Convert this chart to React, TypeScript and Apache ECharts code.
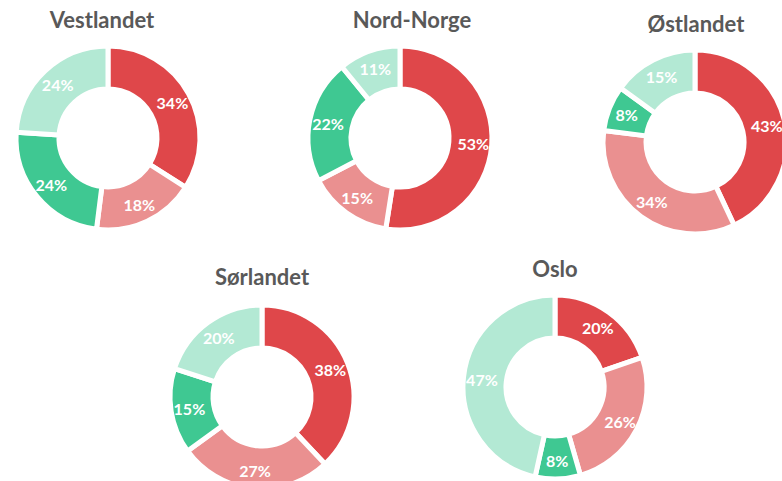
import React, { useEffect, useRef } from "react";
import * as echarts from "echarts";

const categories = ["A", "B", "C", "D"];
const regions = ["Vestlandet", "Nord-Norge", "Østlandet", "Sørlandet", "Oslo"];
const vestlandet = [34, 18, 24, 24];
const nordNorge = [53, 15, 22, 11];
const ostlandet = [43, 34, 8, 15];
const sorlandet = [38, 27, 15, 20];
const oslo = [20, 26, 8, 47];
const seriesValues = [vestlandet, nordNorge, ostlandet, sorlandet, oslo];

const colors = ["#DF474A", "#EA9090", "#3FC892", "#B3E9D4"];

const layouts = [
  { cx: 108, cy: 138, tx: 102, ty: 19 },
  { cx: 400, cy: 138, tx: 412, ty: 19 },
  { cx: 695, cy: 142, tx: 696, ty: 23 },
  { cx: 262, cy: 397, tx: 262, ty: 276 },
  { cx: 555, cy: 387, tx: 555, ty: 268 },
];

export default function App() {
  const ref = useRef<HTMLDivElement>(null);
  useEffect(() => {
    if (!ref.current) return;
    const chart = echarts.init(ref.current, null, { renderer: "svg" });
    const font = "Lato, 'Open Sans', sans-serif";
    chart.setOption({
      animation: false,
      backgroundColor: "#ffffff",
      color: colors,
      graphic: regions.map((name, i) => ({
        type: "text",
        x: layouts[i].tx,
        y: layouts[i].ty,
        style: {
          text: name,
          fill: "#595959",
          font: `bold 22px ${font}`,
          textAlign: "center",
          textVerticalAlign: "middle",
        },
      })),
      series: seriesValues.map((vals, i) => ({
        type: "pie",
        name: regions[i],
        center: [layouts[i].cx, layouts[i].cy],
        radius: [49, 92],
        startAngle: 90,
        clockwise: true,
        silent: true,
        itemStyle: { borderColor: "#ffffff", borderWidth: 5 },
        label: {
          show: true,
          position: "inside",
          formatter: "{c}%",
          color: "#ffffff",
          fontFamily: font,
          fontWeight: "bold",
          fontSize: 16,
        },
        labelLine: { show: false },
        data: vals.map((v, j) => ({ name: categories[j], value: v })),
      })),
    });
    return () => chart.dispose();
  }, []);
  return (
    <div
      ref={ref}
      style={{ position: "fixed", left: 0, top: 0, width: 782, height: 481 }}
    />
  );
}
